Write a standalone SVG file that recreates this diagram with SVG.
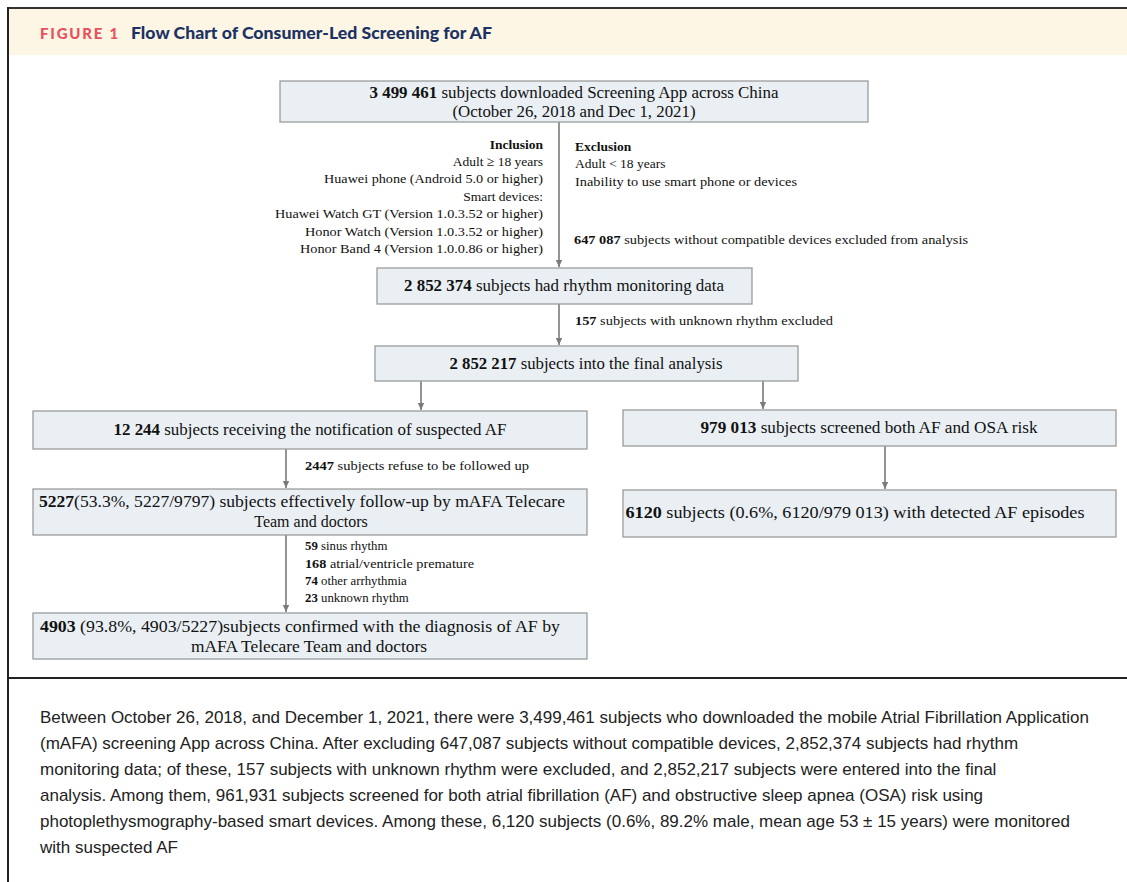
<svg xmlns="http://www.w3.org/2000/svg" width="1127" height="882" viewBox="0 0 1127 882">
<style>
.bx{fill:#E9EFF3;stroke:#9C9C9C;stroke-width:1.3}
.t{font-family:"Liberation Serif","Times New Roman",serif;font-size:16px;fill:#111}
.s{font-family:"Liberation Serif","Times New Roman",serif;font-size:13.5px;fill:#111}
.l{font-family:"Liberation Serif","Times New Roman",serif;font-size:12.8px;fill:#111}
.b{font-weight:bold}
.cap{font-family:"Liberation Sans",Arial,sans-serif;font-size:17px;fill:#222}
.ar{stroke:#7A7A7A;stroke-width:1.6;fill:none}
</style>
<defs>
<marker id="ah" markerWidth="8" markerHeight="8" refX="7" refY="4" orient="auto" markerUnits="userSpaceOnUse">
<path d="M0,0.8 L7,4 L0,7.2 z" fill="#7A7A7A"/>
</marker>
</defs>
<rect x="0" y="0" width="1127" height="882" fill="#fff"/>
<g id="frame">
<rect x="9" y="9" width="1118" height="46" fill="#FDF6E4"/>
<line x1="8" y1="8" x2="1127" y2="8" stroke="#333" stroke-width="2"/>
<line x1="8" y1="7" x2="8" y2="882" stroke="#222" stroke-width="2"/>
<line x1="8" y1="678" x2="1127" y2="678" stroke="#222" stroke-width="2"/>
<text x="40" y="39" font-family="Lato,'Liberation Sans',sans-serif" font-size="15" font-weight="900" fill="#E8505B" letter-spacing="1.8">FIGURE 1</text>
<text x="131" y="39" font-family="Lato,'Liberation Sans',sans-serif" font-size="16" font-weight="900" fill="#1C3263" textLength="361" lengthAdjust="spacingAndGlyphs">Flow Chart of Consumer-Led Screening for AF</text>
</g>
<g id="connectors">
<line class="ar" x1="559" y1="122" x2="559" y2="267" marker-end="url(#ah)"/>
<line class="ar" x1="559" y1="304" x2="559" y2="345" marker-end="url(#ah)"/>
<line class="ar" x1="421" y1="381" x2="421" y2="410" marker-end="url(#ah)"/>
<line class="ar" x1="763" y1="381" x2="763" y2="409" marker-end="url(#ah)"/>
<line class="ar" x1="286" y1="449" x2="286" y2="488" marker-end="url(#ah)"/>
<line class="ar" x1="885" y1="446" x2="885" y2="489" marker-end="url(#ah)"/>
<line class="ar" x1="286" y1="535" x2="286" y2="612" marker-end="url(#ah)"/>
</g>
<g id="n-download">
<rect class="bx" x="280" y="81" width="588" height="41"/>
<text class="t" x="574" y="98" text-anchor="middle" textLength="409" lengthAdjust="spacingAndGlyphs"><tspan class="b">3 499 461</tspan> subjects downloaded Screening App across China</text>
<text class="t" x="574" y="117" text-anchor="middle" textLength="243" lengthAdjust="spacingAndGlyphs">(October 26, 2018 and Dec 1, 2021)</text>
</g>
<g id="n-inclusion">
<text class="s b" x="543" y="149" text-anchor="end">Inclusion</text>
<text class="s" x="543" y="166" text-anchor="end">Adult ≥ 18 years</text>
<text class="s" x="543" y="183" text-anchor="end" textLength="219" lengthAdjust="spacingAndGlyphs">Huawei phone (Android 5.0 or higher)</text>
<text class="s" x="543" y="201" text-anchor="end">Smart devices:</text>
<text class="s" x="543" y="218" text-anchor="end" textLength="268" lengthAdjust="spacingAndGlyphs">Huawei Watch GT (Version 1.0.3.52 or higher)</text>
<text class="s" x="543" y="236" text-anchor="end" textLength="238" lengthAdjust="spacingAndGlyphs">Honor Watch (Version 1.0.3.52 or higher)</text>
<text class="s" x="543" y="253" text-anchor="end" textLength="243" lengthAdjust="spacingAndGlyphs">Honor Band 4 (Version 1.0.0.86 or higher)</text>
</g>
<g id="n-exclusion">
<text class="s b" x="575" y="151">Exclusion</text>
<text class="s" x="575" y="168">Adult &lt; 18 years</text>
<text class="s" x="575" y="186" textLength="222" lengthAdjust="spacingAndGlyphs">Inability to use smart phone or devices</text>
<text class="s" x="574" y="244" textLength="394" lengthAdjust="spacingAndGlyphs"><tspan class="b">647 087</tspan> subjects without compatible devices excluded from analysis</text>
</g>
<g id="n-rhythm">
<rect class="bx" x="377" y="268" width="375" height="36"/>
<text class="t" x="564" y="291" text-anchor="middle" textLength="320" lengthAdjust="spacingAndGlyphs"><tspan class="b">2 852 374</tspan> subjects had rhythm monitoring data</text>
</g>
<g id="n-unknown">
<text class="l" x="575" y="325" textLength="258" lengthAdjust="spacingAndGlyphs"><tspan class="b">157</tspan> subjects with unknown rhythm excluded</text>
</g>
<g id="n-final">
<rect class="bx" x="375" y="346" width="423" height="35"/>
<text class="t" x="586" y="369" text-anchor="middle" textLength="273" lengthAdjust="spacingAndGlyphs"><tspan class="b">2 852 217</tspan> subjects into the final analysis</text>
</g>
<g id="n-notified">
<rect class="bx" x="33" y="411" width="554" height="38"/>
<text class="t" x="310" y="435" text-anchor="middle" textLength="393" lengthAdjust="spacingAndGlyphs"><tspan class="b">12 244</tspan> subjects receiving the notification of suspected AF</text>
</g>
<g id="n-osa">
<rect class="bx" x="623" y="410" width="493" height="36"/>
<text class="t" x="869" y="433" text-anchor="middle" textLength="337" lengthAdjust="spacingAndGlyphs"><tspan class="b">979 013</tspan> subjects screened both AF and OSA risk</text>
</g>
<g id="n-refuse">
<text class="l" x="305" y="470" textLength="224" lengthAdjust="spacingAndGlyphs"><tspan class="b">2447</tspan> subjects refuse to be followed up</text>
</g>
<g id="n-followup">
<rect class="bx" x="33" y="489" width="554" height="46"/>
<text class="t" x="302" y="507" text-anchor="middle" textLength="526" lengthAdjust="spacingAndGlyphs"><tspan class="b">5227</tspan>(53.3%, 5227/9797) subjects effectively follow-up by mAFA Telecare</text>
<text class="t" x="311" y="527" text-anchor="middle">Team and doctors</text>
</g>
<g id="n-detected">
<rect class="bx" x="623" y="490" width="493" height="47"/>
<text class="t" x="855" y="518" text-anchor="middle" textLength="459" lengthAdjust="spacingAndGlyphs"><tspan class="b">6120</tspan> subjects (0.6%, 6120/979 013) with detected AF episodes</text>
</g>
<g id="n-other">
<text class="l" x="305" y="550"><tspan class="b">59</tspan> sinus rhythm</text>
<text class="l" x="305" y="568" textLength="169" lengthAdjust="spacingAndGlyphs"><tspan class="b">168</tspan> atrial/ventricle premature</text>
<text class="l" x="305" y="585"><tspan class="b">74</tspan> other arrhythmia</text>
<text class="l" x="305" y="602"><tspan class="b">23</tspan> unknown rhythm</text>
</g>
<g id="n-confirmed">
<rect class="bx" x="33" y="613" width="554" height="46"/>
<text class="t" x="300" y="632" text-anchor="middle" textLength="520" lengthAdjust="spacingAndGlyphs"><tspan class="b">4903</tspan> (93.8%, 4903/5227)subjects confirmed with the diagnosis of AF by</text>
<text class="t" x="309" y="652" text-anchor="middle" textLength="236" lengthAdjust="spacingAndGlyphs">mAFA Telecare Team and doctors</text>
</g>
<g id="caption">
<text class="cap" x="40" y="723">Between October 26, 2018, and December 1, 2021, there were 3,499,461 subjects who downloaded the mobile Atrial Fibrillation Application</text>
<text class="cap" x="40" y="749">(mAFA) screening App across China. After excluding 647,087 subjects without compatible devices, 2,852,374 subjects had rhythm</text>
<text class="cap" x="40" y="775">monitoring data; of these, 157 subjects with unknown rhythm were excluded, and 2,852,217 subjects were entered into the final</text>
<text class="cap" x="40" y="801">analysis. Among them, 961,931 subjects screened for both atrial fibrillation (AF) and obstructive sleep apnea (OSA) risk using</text>
<text class="cap" x="40" y="827">photoplethysmography-based smart devices. Among these, 6,120 subjects (0.6%, 89.2% male, mean age 53 ± 15 years) were monitored</text>
<text class="cap" x="40" y="853">with suspected AF</text>
</g>
</svg>
